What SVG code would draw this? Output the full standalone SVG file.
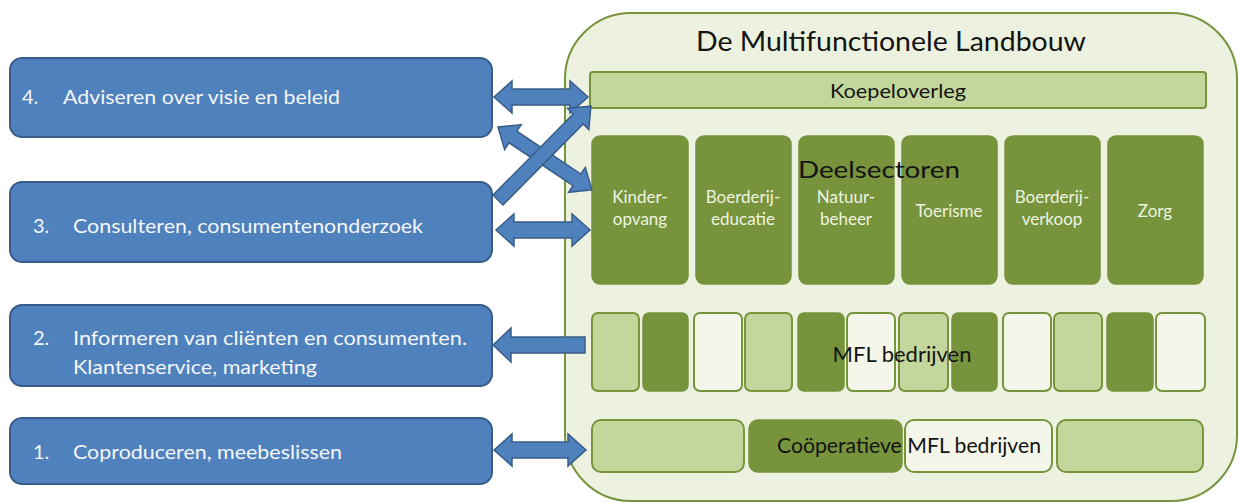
<svg xmlns="http://www.w3.org/2000/svg" width="1240" height="503" viewBox="0 0 1240 503">
<defs>
<style>
.blue{fill:#4f81bd;stroke:#385d8a;stroke-width:2;}
.bt{font-family:Lato,"Liberation Sans",sans-serif;fill:#f4f6fa;font-size:20px;}
.arr{fill:#4f81bd;stroke:#385d8a;stroke-width:1.5;}
.dk{fill:#77933c;stroke:#77933c;stroke-width:1.5;}
.lt{fill:#c3d69b;stroke:#77933c;stroke-width:2;}
.wt{fill:#f3f6e9;stroke:#77933c;stroke-width:2;}
.st{font-family:Lato,"Liberation Sans",sans-serif;fill:#eef3e0;font-size:17px;text-anchor:middle;}
.dt{font-family:Lato,"Liberation Sans",sans-serif;fill:#141414;text-anchor:middle;}
</style>
</defs>
<rect width="1240" height="503" fill="#ffffff"/>
<g id="container">
<rect x="565" y="13" width="672" height="488" rx="66" fill="#ecf2df" stroke="#77933c" stroke-width="2"/>
<text class="dt" x="891" y="51" font-size="27" textLength="390" lengthAdjust="spacingAndGlyphs">De Multifunctionele Landbouw</text>
</g>
<g id="koepeloverleg">
<rect x="590" y="72" width="616" height="36" rx="3" class="lt"/>
<text class="dt" x="898" y="98" font-size="20" textLength="136" lengthAdjust="spacingAndGlyphs">Koepeloverleg</text>
</g>
<g id="deelsectoren">
<rect x="592" y="136" width="96" height="148" rx="8" class="dk"/>
<rect x="696" y="136" width="95" height="148" rx="8" class="dk"/>
<rect x="799" y="136" width="95" height="148" rx="8" class="dk"/>
<rect x="902" y="136" width="95" height="148" rx="8" class="dk"/>
<rect x="1005" y="136" width="95" height="148" rx="8" class="dk"/>
<rect x="1108" y="136" width="95" height="148" rx="8" class="dk"/>
<text class="st" x="640" y="203">Kinder-</text>
<text class="st" x="640" y="225">opvang</text>
<text class="st" x="743" y="203">Boerderij-</text>
<text class="st" x="743" y="225">educatie</text>
<text class="st" x="846" y="203">Natuur-</text>
<text class="st" x="846" y="225">beheer</text>
<text class="st" x="949" y="217">Toerisme</text>
<text class="st" x="1052" y="203">Boerderij-</text>
<text class="st" x="1052" y="225">verkoop</text>
<text class="st" x="1155" y="217">Zorg</text>
<text class="dt" x="879" y="178" font-size="23" textLength="162" lengthAdjust="spacingAndGlyphs">Deelsectoren</text>
</g>
<g id="mfl-bedrijven">
<rect x="592" y="313" width="47" height="78" rx="6" class="lt"/>
<rect x="643" y="313" width="45" height="78" rx="6" class="dk"/>
<rect x="694" y="313" width="48" height="78" rx="6" class="wt"/>
<rect x="745" y="313" width="47" height="78" rx="6" class="lt"/>
<rect x="798" y="313" width="46" height="78" rx="6" class="dk"/>
<rect x="847" y="313" width="48" height="78" rx="6" class="wt"/>
<rect x="899" y="313" width="49" height="78" rx="6" class="lt"/>
<rect x="952" y="313" width="45" height="78" rx="6" class="dk"/>
<rect x="1003" y="313" width="48" height="78" rx="6" class="wt"/>
<rect x="1054" y="313" width="48" height="78" rx="6" class="lt"/>
<rect x="1107" y="313" width="46" height="78" rx="6" class="dk"/>
<rect x="1156" y="313" width="49" height="78" rx="6" class="wt"/>
<text class="dt" x="902" y="362" font-size="22" textLength="139" lengthAdjust="spacingAndGlyphs">MFL bedrijven</text>
</g>
<g id="cooperatieve">
<rect x="592" y="420" width="152" height="52" rx="9" class="lt"/>
<rect x="749" y="420" width="153" height="52" rx="9" class="dk"/>
<rect x="905" y="420" width="147" height="52" rx="9" class="wt"/>
<rect x="1057" y="420" width="146" height="52" rx="9" class="lt"/>
<text class="dt" x="909" y="453" font-size="22" textLength="264" lengthAdjust="spacingAndGlyphs">Coöperatieve MFL bedrijven</text>
</g>
<g id="box4">
<rect x="10" y="58" width="482" height="79" rx="12" class="blue"/>
<text class="bt" x="22" y="104">4.</text>
<text class="bt" x="63" y="104" textLength="277" lengthAdjust="spacingAndGlyphs">Adviseren over visie en beleid</text>
</g>
<g id="box3">
<rect x="10" y="182" width="482" height="80" rx="12" class="blue"/>
<text class="bt" x="33" y="233">3.</text>
<text class="bt" x="73" y="233" textLength="350" lengthAdjust="spacingAndGlyphs">Consulteren, consumentenonderzoek</text>
</g>
<g id="box2">
<rect x="10" y="305" width="482" height="81" rx="12" class="blue"/>
<text class="bt" x="33" y="345">2.</text>
<text class="bt" x="73" y="345" textLength="394" lengthAdjust="spacingAndGlyphs">Informeren van cliënten en consumenten.</text>
<text class="bt" x="73" y="374" textLength="244" lengthAdjust="spacingAndGlyphs">Klantenservice, marketing</text>
</g>
<g id="box1">
<rect x="10" y="418" width="482" height="66" rx="12" class="blue"/>
<text class="bt" x="33" y="459">1.</text>
<text class="bt" x="73" y="459" textLength="269" lengthAdjust="spacingAndGlyphs">Coproduceren, meebeslissen</text>
</g>
<g id="connectors">
<polygon class="arr" points="494,97 512,81 512,89 570,89 570,81 588,97 570,113 570,105 512,105 512,113"/>
<polygon class="arr" points="496,230 514,214 514,222 572,222 572,214 590,230 572,246 572,238 514,238 514,246"/>
<polygon class="arr" points="493,345 511,328 511,337 585,337 585,353 511,353 511,362"/>
<polygon class="arr" points="494,450 512,434 512,442 568,442 568,434 586,450 568,466 568,458 512,458 512,466"/>
<polygon class="arr" transform="translate(498,127) rotate(33.8)" points="0,0 18,-15 18,-7 95,-7 95,-15 113,0 95,15 95,7 18,7 18,15"/>
<polygon class="arr" transform="translate(498,200) rotate(-45.3)" points="0,-7 114,-7 114,-15 132,0 114,15 114,7 0,7"/>
</g>
</svg>
